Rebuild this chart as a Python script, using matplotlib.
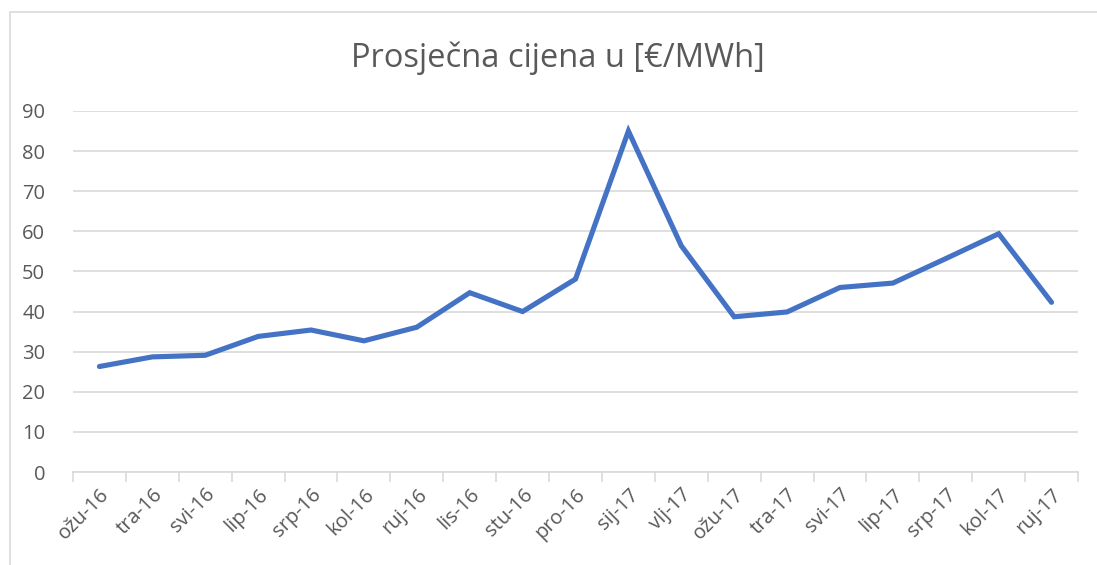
import matplotlib.pyplot as plt
from matplotlib.patches import Rectangle

# Monthly average price
months = ['ožu-16', 'tra-16', 'svi-16', 'lip-16', 'srp-16', 'kol-16', 'ruj-16',
          'lis-16', 'stu-16', 'pro-16', 'sij-17', 'vlj-17', 'ožu-17', 'tra-17',
          'svi-17', 'lip-17', 'srp-17', 'kol-17', 'ruj-17']
price = [26.3, 28.7, 29.1, 33.8, 35.4, 32.7, 36.1, 44.7, 40.0, 48.1,
         85.0, 56.4, 38.7, 39.9, 46.0, 47.1, 53.2, 59.4, 42.3]
y_ticks = [0, 10, 20, 30, 40, 50, 60, 70, 80, 90]

plt.rcParams['font.family'] = ['Open Sans', 'DejaVu Sans']

fig = plt.figure(figsize=(10.97, 5.65), dpi=100)
ax = fig.add_axes([73 / 1097, 1 - 472 / 565, (1078 - 73) / 1097, (472 - 111) / 565])

# chart border
fig.patches.append(Rectangle((10 / 1097, -0.05), 1.1, 1 - 12 / 565 + 0.05,
                             transform=fig.transFigure, fill=False,
                             edgecolor='#d9d9d9', linewidth=1.2))

x = range(len(months))
ax.plot(x, price, color='#4472C4', linewidth=3.7, solid_joinstyle='miter',
        solid_capstyle='round')

ax.set_xlim(-0.5, len(months) - 0.5)
ax.set_ylim(0, 90)
ax.set_yticks(y_ticks)
ax.set_yticklabels([str(v) for v in y_ticks], fontsize=14.5, color='#595959')
ax.yaxis.grid(True, color='#d9d9d9', linewidth=1.2)
ax.set_axisbelow(True)
ax.tick_params(axis='y', length=0, pad=20)

ax.set_xticks(x)
ax.set_xticklabels(months, rotation=45, ha='right', rotation_mode='anchor',
                   fontsize=14.5, color='#595959')
ax.tick_params(axis='x', length=0, pad=9)
ax.set_xticks([i - 0.5 for i in range(len(months) + 1)], minor=True)
ax.tick_params(axis='x', which='minor', length=7, color='#d9d9d9', width=1.2)

for s in ['top', 'right', 'left']:
    ax.spines[s].set_visible(False)
ax.spines['bottom'].set_color('#d9d9d9')
ax.spines['bottom'].set_linewidth(1.2)

fig.text(558 / 1097, 1 - 58 / 565, 'Prosječna cijena u [€/MWh]', ha='center',
         va='center', fontsize=23.5, color='#595959')

fig.savefig('out.png', dpi=100)
